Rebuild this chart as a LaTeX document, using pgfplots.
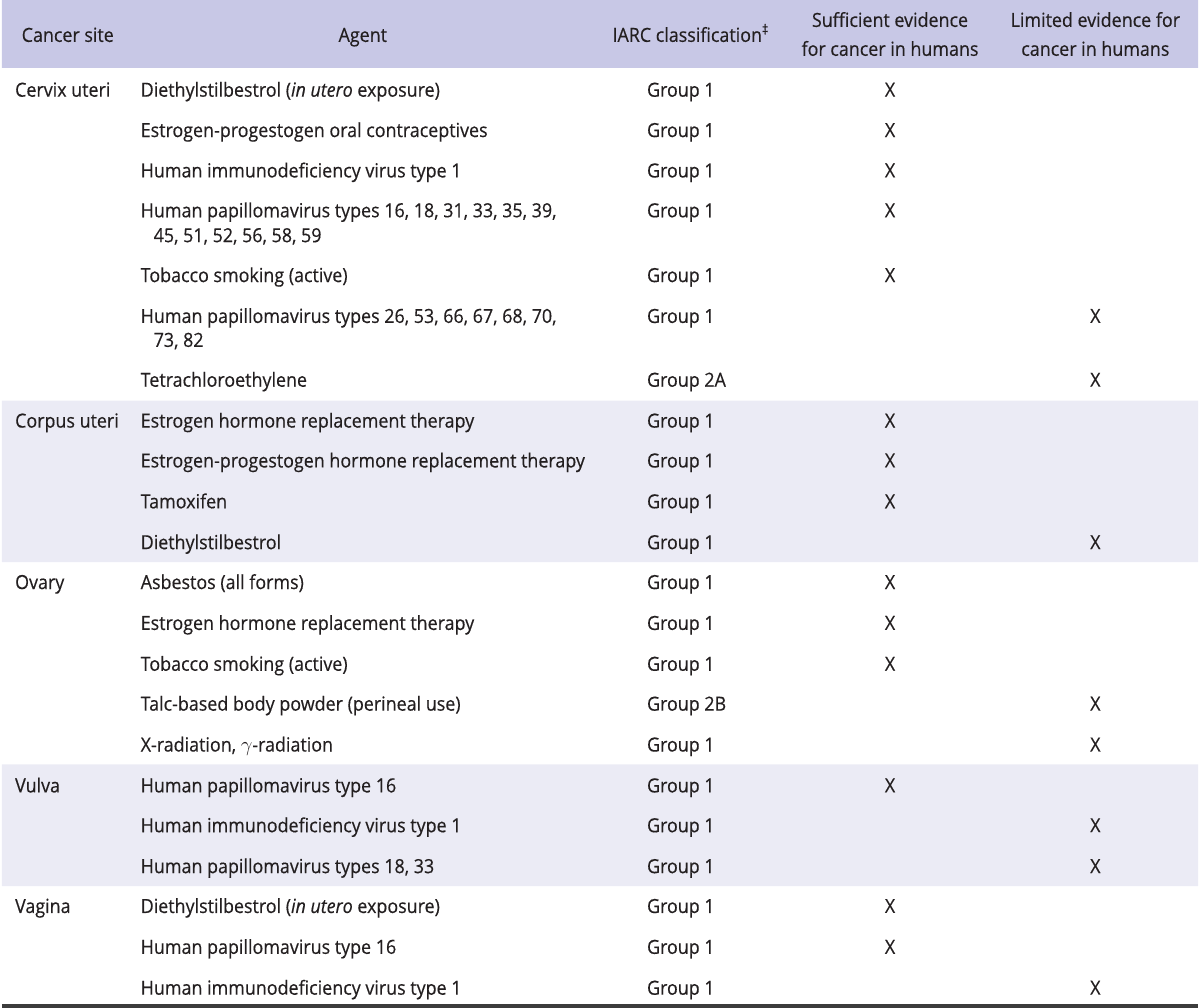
\documentclass[border=0pt]{standalone}
\usepackage{fontspec}
\setmainfont{Open Sans}[FakeStretch=0.92, FakeBold=0.4]
\usepackage{pgfplots}
\pgfplotsset{compat=1.18}
\definecolor{hdr}{RGB}{200,200,230}
\definecolor{band}{RGB}{235,235,245}
\definecolor{txt}{RGB}{35,31,32}
\definecolor{rule}{RGB}{60,60,60}
\newcommand{\tf}{\fontsize{19.5}{24.5}\selectfont}
% row: baseline y, site, agent, group
\newcommand{\row}[4]{%
  \node[anchor=base west,inner sep=0pt,text=txt,font=\tf] at (axis cs:13,#1) {#2};
  \node[anchor=base west,inner sep=0pt,text=txt,font=\tf] at (axis cs:139,#1) {#3};
  \node[anchor=base west,inner sep=0pt,text=txt,font=\tf] at (axis cs:647,#1) {#4};
}
\newcommand{\cont}[2]{%
  \node[anchor=base west,inner sep=0pt,text=txt,font=\tf] at (axis cs:152,#1) {#2};
}
\begin{document}
\begin{tikzpicture}
\begin{axis}[scale only axis, width=1200pt, height=1012pt,
  xmin=0, xmax=1200, ymin=0, ymax=1012, y dir=reverse,
  hide axis, clip=false]
% backgrounds
\addplot[fill=hdr, draw=none] coordinates {(0,0) (1200,0) (1200,68) (0,68) (0,0)};
\addplot[fill=band, draw=none] coordinates {(0,402) (1200,402) (1200,564) (0,564) (0,402)};
\addplot[fill=band, draw=none] coordinates {(0,767) (1200,767) (1200,889) (0,889) (0,767)};
\addplot[draw=rule, line width=4pt] coordinates {(0,1009) (1200,1009)};
% header
\node[anchor=base,inner sep=0pt,text=txt,font=\tf] at (axis cs:66,42) {Cancer site};
\node[anchor=base,inner sep=0pt,text=txt,font=\tf] at (axis cs:362,42) {Agent};
\node[anchor=base,inner sep=0pt,text=txt,font=\tf] at (axis cs:691,42) {IARC classification\textsuperscript{‡}};
\node[anchor=base,inner sep=0pt,text=txt,font=\tf] at (axis cs:891,27) {Sufficient evidence};
\node[anchor=base,inner sep=0pt,text=txt,font=\tf] at (axis cs:891,56) {for cancer in humans};
\node[anchor=base,inner sep=0pt,text=txt,font=\tf] at (axis cs:1097,27) {Limited evidence for};
\node[anchor=base,inner sep=0pt,text=txt,font=\tf] at (axis cs:1097,56) {cancer in humans};
% rows
\row{97}{Cervix uteri}{Diethylstilbestrol (\textit{in utero} exposure)}{Group 1}
\row{137.5}{}{Estrogen-progestogen oral contraceptives}{Group 1}
\row{178}{}{Human immunodeficiency virus type 1}{Group 1}
\row{218}{}{Human papillomavirus types 16, 18, 31, 33, 35, 39,}{Group 1}
\cont{243}{45, 51, 52, 56, 58, 59}
\row{283}{}{Tobacco smoking (active)}{Group 1}
\row{324}{}{Human papillomavirus types 26, 53, 66, 67, 68, 70,}{Group 1}
\cont{348}{73, 82}
\row{388}{}{Tetrachloroethylene}{Group 2A}
\row{429}{Corpus uteri}{Estrogen hormone replacement therapy}{Group 1}
\row{469}{}{Estrogen-progestogen hormone replacement therapy}{Group 1}
\row{510}{}{Tamoxifen}{Group 1}
\row{551}{}{Diethylstilbestrol}{Group 1}
\row{591}{Ovary}{Asbestos (all forms)}{Group 1}
\row{632}{}{Estrogen hormone replacement therapy}{Group 1}
\row{673}{}{Tobacco smoking (active)}{Group 1}
\row{713}{}{Talc-based body powder (perineal use)}{Group 2B}
\row{754}{}{X-radiation, $\gamma$-radiation}{Group 1}
\row{795}{Vulva}{Human papillomavirus type 16}{Group 1}
\row{835}{}{Human immunodeficiency virus type 1}{Group 1}
\row{876}{}{Human papillomavirus types 18, 33}{Group 1}
\row{916}{Vagina}{Diethylstilbestrol (\textit{in utero} exposure)}{Group 1}
\row{957}{}{Human papillomavirus type 16}{Group 1}
\row{998}{}{Human immunodeficiency virus type 1}{Group 1}
% X marks: sufficient evidence
\addplot[draw=none, mark=none, nodes near coords={X},
  every node near coord/.append style={anchor=center, inner sep=0pt, text=txt, font=\tf}]
  coordinates {(891,90) (891,130.5) (891,171) (891,211) (891,276) (891,422) (891,462) (891,503)
  (891,584) (891,625) (891,666) (891,788) (891,909) (891,950)};
% X marks: limited evidence
\addplot[draw=none, mark=none, nodes near coords={X},
  every node near coord/.append style={anchor=center, inner sep=0pt, text=txt, font=\tf}]
  coordinates {(1097,317) (1097,381) (1097,544) (1097,706) (1097,747) (1097,828) (1097,869) (1097,991)};
\end{axis}
\end{tikzpicture}
\end{document}
